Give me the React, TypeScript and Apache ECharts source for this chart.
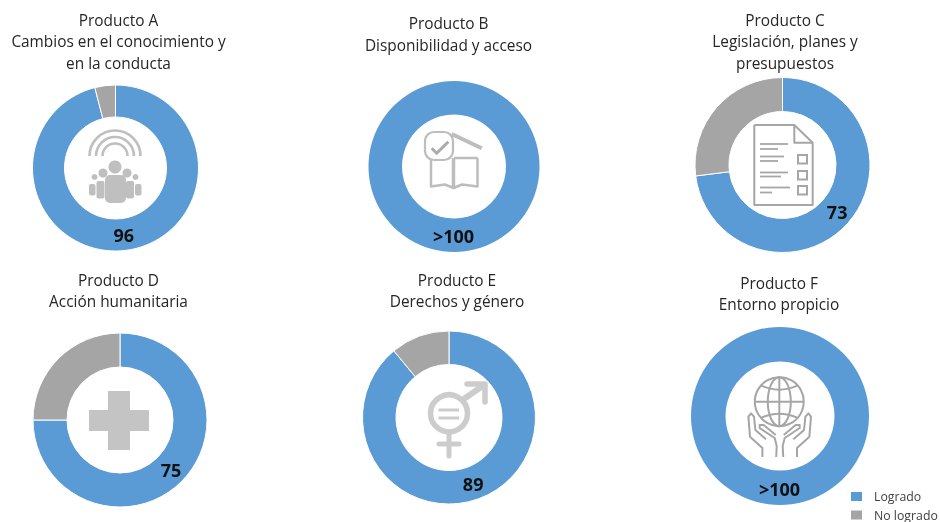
import React, { useEffect, useRef } from "react";
import * as echarts from "echarts";

const products = ["Producto A", "Producto B", "Producto C", "Producto D", "Producto E", "Producto F"];
const subtitles = [
  "Cambios en el conocimiento y\nen la conducta",
  "Disponibilidad y acceso",
  "Legislación, planes y\npresupuestos",
  "Acción humanitaria",
  "Derechos y género",
  "Entorno propicio",
];
const achieved = [96, 100, 73, 75, 89, 100];
const notAchieved = [4, 0, 27, 25, 11, 0];
const valueLabels = ["96", ">100", "73", "75", "89", ">100"];
const legendNames = ["Logrado", "No logrado"];

const centers = [[115.5, 168], [454, 166.5], [782.5, 165], [120, 420], [449, 417.5], [780, 416]];
const outerR = [83, 85.5, 87.5, 87, 86.5, 89];
const innerR = [51, 52, 53.5, 53, 53, 54.5];
const titlePos = [[118.5, 9.5], [448.5, 13], [785, 9.5], [118.5, 269.5], [457, 269.5], [779, 272.5]];

const BLUE = "#5B9BD5";
const GRAY = "#A5A5A5";
const FONT = "'Open Sans', sans-serif";

function line(points: number[][], stroke: string, lineWidth: number, cap = "butt") {
  return { type: "polyline", shape: { points }, style: { stroke, lineWidth, fill: "none", lineCap: cap, lineJoin: "round" } };
}
function arc(cx: number, cy: number, r: number, a0: number, a1: number, stroke: string, lineWidth: number) {
  return { type: "arc", shape: { cx, cy, r, startAngle: a0, endAngle: a1, clockwise: true }, style: { stroke, lineWidth, fill: "none" } };
}
function disc(cx: number, cy: number, r: number, fill: string) {
  return { type: "circle", shape: { cx, cy, r }, style: { fill } };
}
function ring(cx: number, cy: number, r: number, stroke: string, lineWidth: number) {
  return { type: "circle", shape: { cx, cy, r }, style: { fill: "none", stroke, lineWidth } };
}
function box(x: number, y: number, width: number, height: number, fill: string, r = 0) {
  return { type: "rect", shape: { x, y, width, height, r }, style: { fill } };
}
function frame(x: number, y: number, width: number, height: number, stroke: string, lineWidth: number, r = 0) {
  return { type: "rect", shape: { x, y, width, height, r }, style: { fill: "none", stroke, lineWidth } };
}
function curve(x1: number, y1: number, cpx1: number, cpy1: number, x2: number, y2: number, stroke: string, lineWidth: number) {
  return { type: "bezierCurve", shape: { x1, y1, cpx1, cpy1, x2, y2 }, style: { stroke, lineWidth, fill: "none" } };
}

function iconA() {
  const c = "#BFBFBF";
  const cx = 115;
  const out: any[] = [];
  [25.5, 19, 12.5].forEach((r) => out.push(arc(cx, 156, r, Math.PI, 2 * Math.PI, c, 2.6)));
  out.push(disc(cx, 167, 6.5, c), box(105, 175, 21, 28, c, 5));
  [-1, 1].forEach((s) => {
    out.push(disc(cx + s * 12, 173, 4.5, c));
    out.push(box(cx + (s < 0 ? -18.5 : 11), 181, 8, 17.5, c, 2));
    out.push(disc(cx + s * 20.5, 177, 3, c));
    out.push(box(cx + (s < 0 ? -26 : 20), 184, 6.5, 11.5, c, 2));
  });
  return out;
}
function iconB() {
  const c = "#BDBDBD";
  return [
    frame(425, 132, 28, 28, c, 2.2, 9),
    line([[431.7, 148.3], [436.7, 153.3], [448.3, 141.7]], "#ABABAB", 3),
    line([[451.7, 134], [481.7, 148.3]], c, 4),
    line([[431, 160], [431, 186.5], [445, 184.5], [453.5, 188], [462, 184.5], [477.5, 186.5], [477.5, 158]], c, 2.5),
    line([[453.5, 158], [453.5, 188]], c, 3.5),
    line([[454, 158], [477.5, 158]], c, 2.5),
  ];
}
function iconC() {
  const c = "#A6A6A6";
  const o: any[] = [
    line([[754.3, 125], [794.3, 125], [812.7, 142.7], [812.7, 205], [754.3, 205], [754.3, 125]], c, 2),
    line([[794.3, 125], [794.3, 142.7], [812.7, 142.7]], c, 2),
  ];
  [[144, 788], [149, 778], [156.5, 784], [161, 778], [172.5, 788], [176.5, 781], [187.5, 790], [192.5, 772]].forEach(([y, x2]) =>
    o.push(line([[760, y], [x2, y]], c, 1.8)));
  [155, 171, 186].forEach((y) => o.push(frame(798, y, 9, 8.5, c, 2)));
  return o;
}
function iconD() {
  const c = "#C4C4C4";
  return [box(108, 391, 22, 59, c), box(89, 410, 60, 21, c)];
}
function iconE() {
  const c = "#CCCCCC";
  return [
    ring(449, 413.3, 18.5, c, 5.5),
    line([[438.5, 410], [459, 410]], c, 3),
    line([[438.5, 418], [459, 418]], c, 3),
    line([[461, 401], [484, 385]], c, 6),
    line([[467, 384], [485, 384], [485, 402]], c, 5.5, "round"),
    line([[449, 433], [449, 456]], c, 5, "round"),
    line([[439, 444], [459, 444]], c, 5, "round"),
  ];
}
function iconF() {
  const c = "#A6A6A6";
  const gx = 779.3, gy = 401.7;
  const o: any[] = [
    ring(gx, gy, 24.5, c, 2),
    { type: "ellipse", shape: { cx: gx, cy: gy, rx: 11.5, ry: 24.5 }, style: { fill: "none", stroke: c, lineWidth: 2 } },
    line([[gx, gy - 24], [gx, gy + 24]], c, 2),
    line([[gx - 24.5, gy], [gx + 24.5, gy]], c, 2),
    curve(gx - 18, gy - 16, gx, gy - 8, gx + 18, gy - 16, c, 2),
    curve(gx - 18, gy + 16, gx, gy + 8, gx + 18, gy + 16, c, 2),
  ];
  [-1, 1].forEach((s) => {
    const X = (d: number) => gx + 0.4 + s * d;
    o.push(line([[X(17.3), 457], [X(17.3), 448], [X(29.7), 436.7], [X(31.3), 416.7], [X(28.7), 413.3], [X(25.7), 416.7], [X(24.3), 430], [X(13.7), 439.3]], c, 2));
    o.push(line([[X(3.5), 457], [X(3), 446], [X(5), 438], [X(20), 428], [X(20), 425], [X(16), 425], [X(4), 435]], c, 2));
  });
  return o;
}

export default function App() {
  const ref = useRef<HTMLDivElement>(null);
  useEffect(() => {
    const chart = echarts.init(ref.current!, null, { renderer: "svg" });
    const legendText = { fontFamily: FONT, fontSize: 12.3, color: "#404040", padding: [0, 0, 0, 6] };
    chart.setOption({
      animation: false,
      backgroundColor: "#fff",
      title: products.map((p, i) => ({
        text: p + "\n" + subtitles[i],
        left: titlePos[i][0],
        top: titlePos[i][1],
        padding: 0,
        textAlign: "center",
        textStyle: { fontFamily: FONT, fontSize: 15.4, fontWeight: "normal", color: "#262626", lineHeight: 21.5 },
      })),
      legend: legendNames.map((name, i) => ({
        orient: "vertical",
        left: 849,
        top: i === 0 ? 490 : 508.5,
        padding: 0,
        itemWidth: 13,
        itemHeight: 11,
        icon: "rect",
        data: [name],
        textStyle: legendText,
      })),
      series: products.map((p, i) => ({
        type: "pie",
        name: p,
        center: centers[i],
        radius: [innerR[i], outerR[i]],
        startAngle: 90,
        clockwise: true,
        silent: true,
        avoidLabelOverlap: false,
        labelLine: { show: false },
        itemStyle: { borderColor: "#fff", borderWidth: notAchieved[i] > 0 ? 1 : 0 },
        data: [
          {
            name: legendNames[0],
            value: achieved[i],
            itemStyle: { color: BLUE },
            label: {
              show: true,
              position: "inside",
              formatter: valueLabels[i],
              fontFamily: FONT,
              fontSize: 18,
              fontWeight: "bold",
              color: "#111",
              offset: [-0.5, -2],
            },
          },
          { name: legendNames[1], value: notAchieved[i], itemStyle: { color: GRAY }, label: { show: false } },
        ],
      })),
      graphic: [...iconA(), ...iconB(), ...iconC(), ...iconD(), ...iconE(), ...iconF()].map((e) => ({ ...e, silent: true })),
    });
    return () => chart.dispose();
  }, []);
  return <div ref={ref} style={{ position: "absolute", left: 0, top: 0, width: 940, height: 522, overflow: "hidden", filter: "blur(0.4px)" }} />;
}
